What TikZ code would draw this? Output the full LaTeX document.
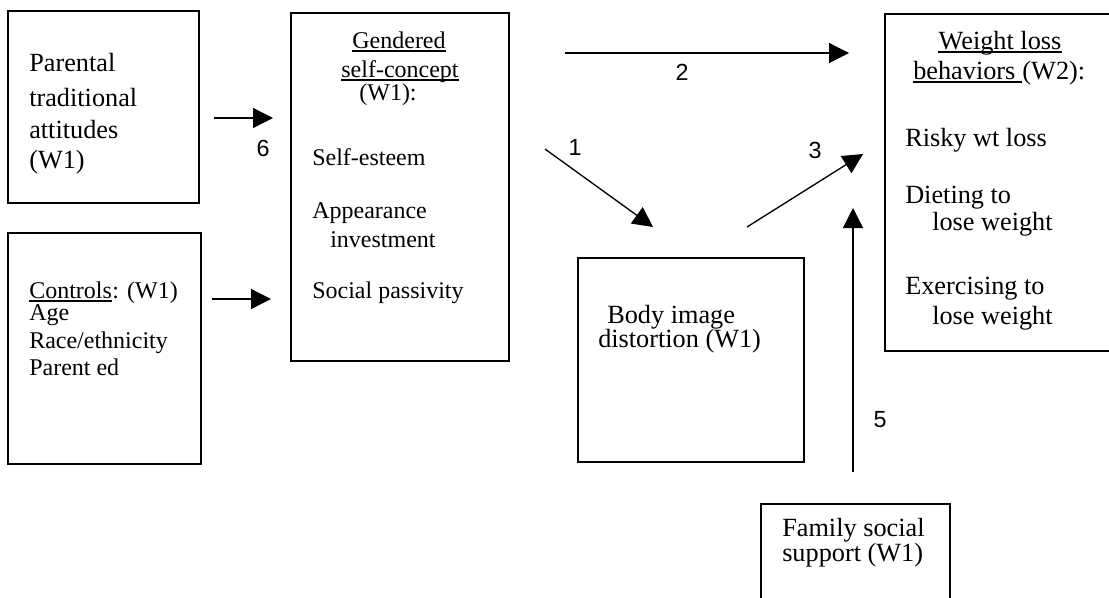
\documentclass[tikz,border=0pt]{standalone}
\usepackage{fontspec}
\setmainfont{Liberation Serif}
\newfontfamily\labfont{Liberation Sans}
\usetikzlibrary{arrows.meta}
\begin{document}
\begin{tikzpicture}[x=0.75pt,y=-0.75pt,
  box/.style={draw, line width=1.3pt, inner sep=0pt, rectangle},
  big/.style={inner sep=0pt, font=\fontsize{19.7}{23}\selectfont},
  small/.style={inner sep=0pt, font=\fontsize{18}{21}\selectfont},
  num/.style={inner sep=0pt, font=\labfont\fontsize{17.5}{20}\selectfont},
  arr/.style={line width=1pt, -{Triangle[length=15pt,width=15pt]}},
  ul/.style={line width=1pt}]
\useasboundingbox (0,0) rectangle (1109,597);
\fill[white] (0,0) rectangle (1109,597);
\clip (0,0) rectangle (1109,597);

% Parental traditional attitudes
\node[box, minimum width=143.25pt, minimum height=144pt] (pa) at (103.5,107) {};
\node[big, anchor=base west] (pa1) at (29,71) {Parental};
\node[big, anchor=base west] (pa2) at (29,106) {traditional};
\node[big, anchor=base west] (pa3) at (29,138) {attitudes};
\node[big, anchor=base west] (pa4) at (29,168) {(W1)};

% Gendered self-concept
\node[box, minimum width=163.5pt, minimum height=261pt] (gs) at (400,187) {};
\node[small, anchor=base] (gs1) at (399,48) {Gendered};
\node[small, anchor=base] (gs2) at (400,77) {self-concept};
\node[small, anchor=base] (gs3) at (388,100) {(W1):};
\draw[ul] ([yshift=-2.25pt]gs1.base west) -- ([yshift=-2.25pt]gs1.base east);
\draw[ul] ([yshift=-2.25pt]gs2.base west) -- ([yshift=-2.25pt]gs2.base east);
\node[small, anchor=base west] (gs4) at (312,165) {Self-esteem};
\node[small, anchor=base west] (gs5) at (312,218) {Appearance};
\node[small, anchor=base west] (gs6) at (330,247) {investment};
\node[small, anchor=base west] (gs7) at (312,298) {Social passivity};

% Weight loss behaviors
\node[box, minimum width=170.25pt, minimum height=252.75pt] (wl) at (998.5,182.5) {};
\node[big, anchor=base] (wl1) at (1000,49) {Weight loss};
\draw[ul] ([yshift=-2.25pt]wl1.base west) -- ([yshift=-2.25pt]wl1.base east);
\node[big, anchor=base west] (wl2) at (913,79) {behaviors\kern0.25em};
\draw[ul] ([yshift=-2.25pt]wl2.base west) -- ([yshift=-2.25pt]wl2.base east);
\node[big, anchor=base west] (wl3) at (wl2.base east) {(W2):};
\node[big, anchor=base west] (wl4) at (905,146) {Risky wt loss};
\node[big, anchor=base west] (wl5) at (905,203) {Dieting to};
\node[big, anchor=base west] (wl6) at (932,230) {lose weight};
\node[big, anchor=base west] (wl7) at (905,294) {Exercising to};
\node[big, anchor=base west] (wl8) at (932,324) {lose weight};

% Controls
\node[box, minimum width=144.75pt, minimum height=173.25pt] (ct) at (104.5,348.5) {};
\node[small, anchor=base west] (ct1) at (29,298) {Controls};
\draw[ul] ([yshift=-2.25pt]ct1.base west) -- ([yshift=-2.25pt]ct1.base east);
\node[small, anchor=base west] (ct2) at (ct1.base east) {: (W1)};
\node[small, anchor=base west] (ct3) at (29,320) {Age};
\node[small, anchor=base west] (ct4) at (29,348) {Race/ethnicity};
\node[small, anchor=base west] (ct5) at (29,375) {Parent ed};

% Body image distortion
\node[box, minimum width=169.5pt, minimum height=153pt] (bi) at (691,360) {};
\node[big, anchor=base west] (bi1) at (607,323) {Body image};
\node[big, anchor=base west] (bi2) at (598,347) {distortion (W1)};

% Family social support
\node[box, minimum width=141.75pt, minimum height=79.5pt] (fs) at (855.5,557) {};
\node[big, anchor=base west] (fs1) at (782,536) {Family social};
\node[big, anchor=base west] (fs2) at (782,561) {support (W1)};

% arrow end points
\coordinate (a6s) at (214,118);  \coordinate (a6e) at (273,118);
\coordinate (acs) at (212,299);  \coordinate (ace) at (271,299);
\coordinate (a2s) at (565,53);   \coordinate (a2e) at (849,53);
\coordinate (a1s) at (545,149);  \coordinate (a1e) at (653,227);
\coordinate (a3s) at (747,227);  \coordinate (a3e) at (863,154);
\coordinate (a5s) at (853,472);  \coordinate (a5e) at (853,208);

\draw[arr] (a6s) -- (a6e);
\draw[arr] (acs) -- (ace);
\draw[arr] (a2s) -- (a2e);
\draw[arr] (a1s) -- (a1e);
\draw[arr] (a3s) -- (a3e);
\draw[arr] (a5s) -- (a5e);

% path labels
\node[num] (l6) at (263,148) {6};
\node[num] (l2) at (682,72) {2};
\node[num] (l1) at (575,147) {1};
\node[num] (l3) at (815,150) {3};
\node[num] (l5) at (880,420) {5};
\end{tikzpicture}
\end{document}
